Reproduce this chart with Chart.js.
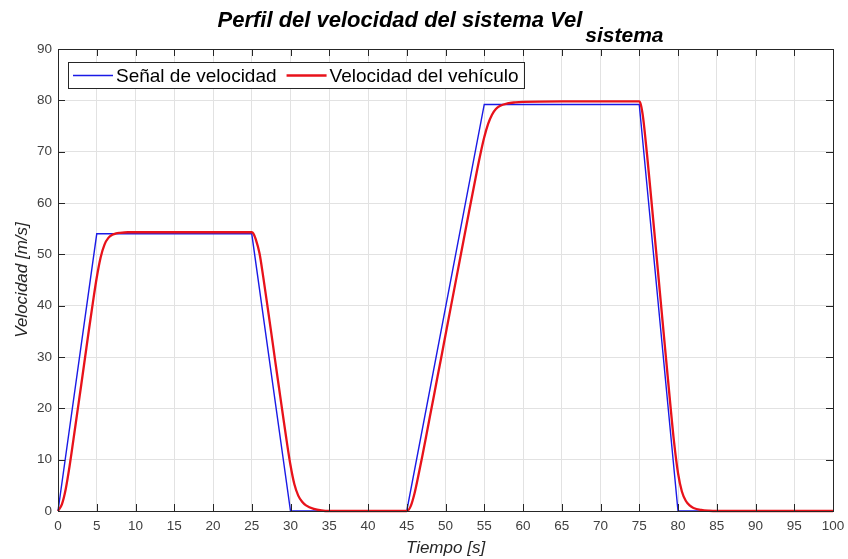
<!DOCTYPE html>
<html lang="es">
<head>
<meta charset="UTF-8">
<title>Perfil de velocidad</title>
<script src="https://cdn.jsdelivr.net/npm/chart.js@4.4.1/dist/chart.umd.min.js"></script>
<style>
    body { margin: 0; background: #fff; }
    canvas { display: block; }
</style>
</head>
<body>
<canvas id="graficaVelocidad" width="848" height="559"></canvas>
<script>
// 🔹 Señal de velocidad (referencia)
const tiempoSenal = [0, 5, 25, 30, 45, 55, 75, 80, 100];
const velSenal    = [0, 54, 54, 0, 0, 79.2, 79.2, 0, 0];

// 🔹 Velocidad del vehículo
const tiempoVehiculo = [
    0, 0.5, 1, 1.5, 2, 2.5, 3, 3.5, 4, 4.5, 5, 5.5, 6, 6.5, 7, 7.5, 8, 9, 10, 15, 20, 25,
    25.2, 25.5, 26, 26.5, 27, 27.5, 28, 28.5, 29, 29.5, 30, 30.5, 31, 31.5, 32, 33, 34, 35, 40, 45,
    45.5, 46, 46.5, 47, 47.5, 48, 48.5, 49, 49.5, 50, 51, 52, 53, 54, 54.5, 55, 55.5, 56, 56.5, 57, 58, 59, 60, 65, 70, 75,
    75.2, 75.5, 76, 76.5, 77, 77.5, 78, 78.5, 79, 79.5, 80, 80.5, 81, 81.5, 82, 83, 84, 85, 90, 95, 100
];
const velVehiculo = [
    0, 1.3, 4.3, 8.8, 14, 19.3, 24.6, 30, 35.4, 40.6, 45.5, 49.4, 51.9, 53.2, 53.8, 54.1, 54.2, 54.3, 54.3, 54.3, 54.3, 54.3,
    54.1, 53.0, 50.2, 45.4, 40.2, 34.9, 29.5, 24.2, 18.9, 13.7, 8.9, 5.2, 3.0, 1.8, 1.1, 0.4, 0.1, 0, 0, 0,
    0.9, 3.4, 6.9, 10.6, 14.5, 18.5, 22.4, 26.4, 30.3, 34.3, 42.2, 50.1, 58.0, 65.8, 69.5, 72.8, 75.4, 77.2, 78.3, 78.9, 79.4, 79.6, 79.7, 79.8, 79.8, 79.8,
    79.2, 76.6, 69.5, 61.6, 53.5, 45.3, 37.1, 29.0, 20.9, 13.3, 7.4, 3.8, 2.0, 1.1, 0.6, 0.2, 0.05, 0, 0, 0, 0
];

// 🔹 Ejes y textos
const rangoX = [0, 100];
const pasoX = 5;
const rangoY = [0, 90];
const pasoY = 10;
const tituloPrincipal = 'Perfil del velocidad del sistema Vel';
const tituloSubindice = 'sistema';
const etiquetaX = 'Tiempo [s]';
const etiquetaY = 'Velocidad [m/s]';
const nombresSeries = ['Señal de velocidad', 'Velocidad del vehículo'];

const fuente = "'Liberation Sans', Arial, Helvetica, sans-serif";
const colorEjes = '#262626';

function aPuntos(xs, ys) {
    return xs.map((x, i) => ({ x: x, y: ys[i] }));
}

// 🔸 Caja de ejes con marcas hacia adentro (estilo MATLAB)
const cajaEjes = {
    id: 'cajaEjes',
    afterDatasetsDraw(chart) {
        const { ctx, chartArea: a, scales } = chart;
        const largo = 7;
        ctx.save();
        ctx.strokeStyle = colorEjes;
        ctx.lineWidth = 1;
        ctx.beginPath();
        scales.x.ticks.forEach(t => {
            let px = Math.round(scales.x.getPixelForValue(t.value)) + 0.5;
            ctx.moveTo(px, a.bottom); ctx.lineTo(px, a.bottom - largo);
            ctx.moveTo(px, a.top); ctx.lineTo(px, a.top + largo);
        });
        scales.y.ticks.forEach(t => {
            let py = Math.round(scales.y.getPixelForValue(t.value)) + 0.5;
            ctx.moveTo(a.left, py); ctx.lineTo(a.left + largo, py);
            ctx.moveTo(a.right, py); ctx.lineTo(a.right - largo, py);
        });
        ctx.stroke();
        ctx.strokeRect(Math.round(a.left) + 0.5, Math.round(a.top) + 0.5,
                       Math.round(a.right) - Math.round(a.left), Math.round(a.bottom) - Math.round(a.top));
        ctx.restore();
    }
};

// 🔸 Título con subíndice
const tituloConSubindice = {
    id: 'tituloConSubindice',
    afterDraw(chart) {
        const { ctx, chartArea: a } = chart;
        ctx.save();
        ctx.fillStyle = '#000';
        ctx.textBaseline = 'alphabetic';
        ctx.textAlign = 'left';
        ctx.font = 'italic bold 22px ' + fuente;
        let anchoPrincipal = ctx.measureText(tituloPrincipal).width;
        ctx.font = 'italic bold 21px ' + fuente;
        let anchoSub = ctx.measureText(tituloSubindice).width;
        let total = anchoPrincipal + 3 + anchoSub;
        let x0 = (a.left + a.right) / 2 - 5 - total / 2;
        ctx.font = 'italic bold 22px ' + fuente;
        ctx.fillText(tituloPrincipal, x0, 27);
        ctx.font = 'italic bold 21px ' + fuente;
        ctx.fillText(tituloSubindice, x0 + anchoPrincipal + 3, 42);
        ctx.restore();
    }
};

// 🔸 Leyenda con recuadro dentro del área de la gráfica
const leyendaCaja = {
    id: 'leyendaCaja',
    afterDraw(chart) {
        const { ctx, chartArea: a } = chart;
        const sets = chart.data.datasets;
        let x = a.left + 10;
        let y = a.top + 13;
        let alto = 26;
        ctx.save();
        ctx.font = '19px ' + fuente;
        let anchos = sets.map(d => ctx.measureText(d.label).width);
        let ancho = 5;
        sets.forEach((d, i) => { ancho += 40 + 3 + anchos[i] + (i < sets.length - 1 ? 10 : 5); });
        ctx.fillStyle = '#fff';
        ctx.fillRect(x, y, ancho, alto);
        ctx.strokeStyle = colorEjes;
        ctx.lineWidth = 1;
        ctx.strokeRect(Math.round(x) + 0.5, Math.round(y) + 0.5, Math.round(ancho), alto);
        let cx = x + 5;
        let cy = y + alto / 2 + 0.5;
        sets.forEach((d, i) => {
            ctx.strokeStyle = d.borderColor;
            ctx.lineWidth = d.borderWidth;
            ctx.beginPath();
            ctx.moveTo(cx, cy); ctx.lineTo(cx + 40, cy);
            ctx.stroke();
            cx += 43;
            ctx.fillStyle = '#000';
            ctx.textBaseline = 'middle';
            ctx.fillText(d.label, cx, cy + 1);
            cx += anchos[i] + 10;
        });
        ctx.restore();
    }
};

const ctx = document.getElementById('graficaVelocidad').getContext('2d');

let graficaVelocidad = new Chart(ctx, {
    type: 'line',
    data: {
        datasets: [
            {
                label: nombresSeries[0],
                data: aPuntos(tiempoSenal, velSenal),
                borderColor: '#1a1ae6',
                borderWidth: 1.4,
                pointRadius: 0,
                tension: 0,
                clip: false,
                order: 1
            },
            {
                label: nombresSeries[1],
                data: aPuntos(tiempoVehiculo, velVehiculo),
                borderColor: '#e8121a',
                borderWidth: 2.3,
                pointRadius: 0,
                cubicInterpolationMode: 'monotone',
                clip: false,
                order: 0
            }
        ]
    },
    options: {
        responsive: false,
        animation: false,
        layout: {
            padding: { top: 49, right: 15, left: 0, bottom: 0 }
        },
        plugins: {
            legend: { display: false },
            title: { display: false },
            tooltip: { enabled: false }
        },
        scales: {
            x: {
                type: 'linear',
                min: rangoX[0],
                max: rangoX[1],
                afterFit: s => { s.height = 48; s.paddingLeft = 0; s.paddingRight = 0; },
                ticks: {
                    stepSize: pasoX,
                    padding: 7,
                    color: '#404040',
                    font: { family: fuente, size: 13.5 },
                    maxRotation: 0,
                    autoSkip: false
                },
                grid: { color: '#e2e2e2', drawTicks: false },
                border: { display: false },
                title: {
                    display: true,
                    text: etiquetaX,
                    color: '#262626',
                    font: { family: fuente, size: 17, style: 'italic' },
                    padding: { top: 0, bottom: 1 }
                }
            },
            y: {
                type: 'linear',
                min: rangoY[0],
                max: rangoY[1],
                afterFit: s => { s.width = 58; s.paddingTop = 0; s.paddingBottom = 0; },
                ticks: {
                    stepSize: pasoY,
                    padding: 6,
                    color: '#404040',
                    font: { family: fuente, size: 13.5 }
                },
                grid: { color: '#e2e2e2', drawTicks: false },
                border: { display: false },
                title: {
                    display: true,
                    text: etiquetaY,
                    color: '#262626',
                    font: { family: fuente, size: 17, style: 'italic' },
                    padding: { top: 12, bottom: 0 }
                }
            }
        }
    },
    plugins: [cajaEjes, tituloConSubindice, leyendaCaja]
});
</script>
</body>
</html>
